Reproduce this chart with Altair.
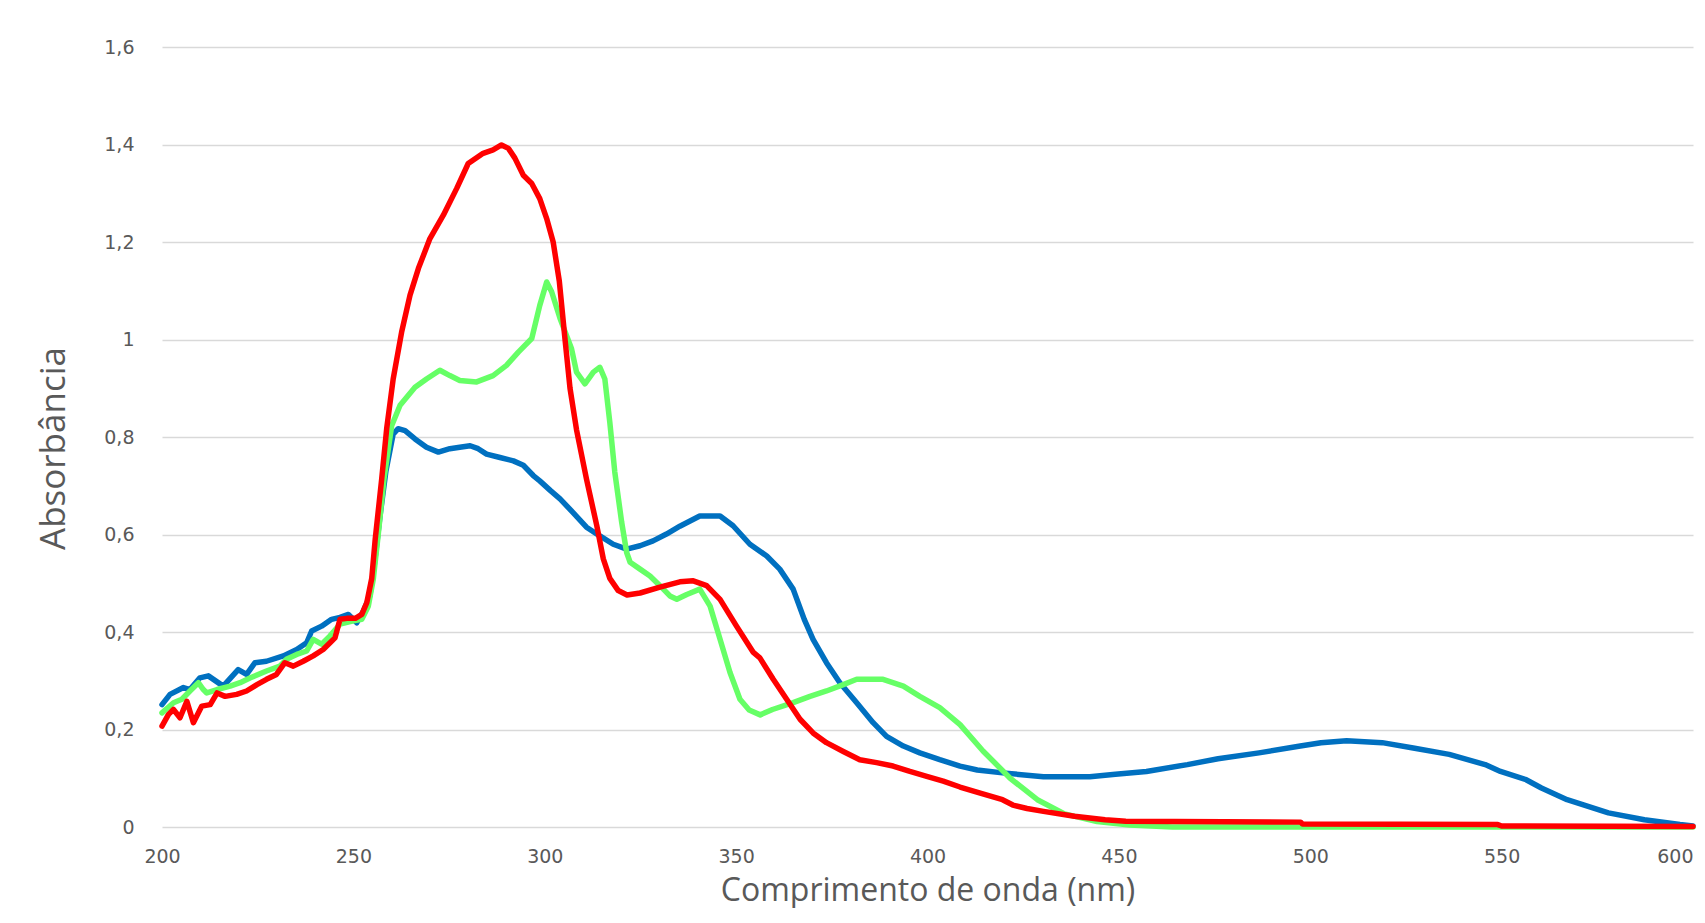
import altair as alt
import pandas as pd

# Blue series
blue_nm = [200, 202.1, 205.6, 207.3, 209.9, 212.1, 216.0, 219.9, 222.1, 224.3, 227.3, 231.7,
           235.2, 237.8, 239.1, 241.7, 244.3, 246.5, 248.7, 250.9, 252.6, 254.3, 255.5, 257.0,
           258.5, 260.4, 261.7, 263.5, 266.1, 269.1, 272.2, 275.2, 277.8, 280.5, 282.6, 284.8,
           288.3, 291.8, 294.4, 297.0, 298.7, 301.5, 304.0, 307.4, 310.9, 314.4, 317.9, 321.4,
           324.9, 328.3, 331.8, 335.3, 340.5, 345.8, 349.2, 353.6, 358.0, 361.4, 364.9, 367.8,
           370.1, 373.6, 377.1, 381.5, 385.8, 389.3, 393.7, 398.0, 403.2, 408.5, 413.0, 419.6,
           430.3, 442.4, 449.1, 457.2, 467.9, 475.9, 486.6, 497.4, 502.8, 509.5, 518.8, 526.9,
           536.3, 545.7, 549.7, 556.4, 560.4, 567.1, 577.9, 587.3, 596.6, 600]
blue_abs = [0.251, 0.272, 0.286, 0.282, 0.306, 0.310, 0.289, 0.323, 0.313, 0.337, 0.340, 0.351,
            0.364, 0.378, 0.402, 0.412, 0.426, 0.430, 0.436, 0.419, 0.443, 0.474, 0.540, 0.640,
            0.730, 0.806, 0.817, 0.813, 0.796, 0.779, 0.769, 0.776, 0.779, 0.782, 0.776, 0.765,
            0.758, 0.751, 0.742, 0.721, 0.710, 0.690, 0.673, 0.645, 0.615, 0.597, 0.580, 0.570,
            0.577, 0.587, 0.601, 0.617, 0.638, 0.638, 0.618, 0.580, 0.556, 0.529, 0.488, 0.426,
            0.385, 0.337, 0.296, 0.255, 0.214, 0.186, 0.166, 0.152, 0.138, 0.125, 0.117, 0.111,
            0.103, 0.103, 0.108, 0.114, 0.128, 0.140, 0.152, 0.166, 0.173, 0.177, 0.173, 0.162,
            0.149, 0.128, 0.114, 0.097, 0.080, 0.056, 0.029, 0.015, 0.005, 0.002]

# Green series
green_nm = [200, 203.0, 205.2, 207.3, 209.5, 210.8, 211.7, 214.4, 217.8, 220.4, 223.1, 227.3,
            230.8, 232.5, 235.2, 237.8, 239.5, 241.7, 243.9, 246.5, 250.0, 252.2, 253.9, 255.2,
            256.5, 258.0, 260.0, 262.2, 266.1, 269.1, 272.6, 275.2, 277.8, 282.2, 286.5, 290.0,
            293.1, 296.6, 298.7, 300.5, 301.8, 304.0, 307.0, 308.3, 310.5, 312.7, 314.4, 315.7,
            317.0, 318.3, 320.1, 321.4, 322.3, 324.9, 327.5, 330.1, 332.7, 334.5, 337.1, 340.5,
            343.2, 345.8, 348.4, 351.0, 353.4, 356.3, 359.5, 364.9, 369.3, 373.6, 378.0, 381.5,
            388.4, 393.7, 398.0, 403.2, 408.5, 414.5, 421.6, 428.7, 435.8, 444.3, 452.8, 464.0, 600]
green_abs = [0.234, 0.255, 0.262, 0.279, 0.296, 0.282, 0.275, 0.282, 0.289, 0.296, 0.306, 0.320,
             0.330, 0.344, 0.354, 0.361, 0.385, 0.375, 0.392, 0.416, 0.423, 0.426, 0.453, 0.508,
             0.600, 0.714, 0.823, 0.865, 0.902, 0.919, 0.937, 0.926, 0.916, 0.913, 0.926, 0.947,
             0.974, 1.002, 1.070, 1.118, 1.098, 1.043, 0.981, 0.933, 0.909, 0.933, 0.943, 0.919,
             0.830, 0.728, 0.625, 0.563, 0.543, 0.529, 0.515, 0.495, 0.474, 0.467, 0.477, 0.488,
             0.453, 0.385, 0.317, 0.262, 0.240, 0.230, 0.241, 0.255, 0.268, 0.279, 0.292, 0.303,
             0.303, 0.289, 0.268, 0.245, 0.210, 0.156, 0.100, 0.056, 0.027, 0.011, 0.004, 0.000, 0.000]

# Red series
red_nm = [200, 201.7, 203.0, 204.7, 206.5, 208.2, 210.4, 212.6, 214.4, 216.5, 219.5, 222.1,
          224.8, 227.3, 229.9, 232.1, 234.3, 236.9, 239.5, 242.1, 243.9, 245.2, 246.5, 248.3,
          250.5, 252.2, 253.5, 254.8, 255.7, 257.4, 258.7, 260.4, 262.6, 264.8, 267.0, 270.0,
          273.5, 277.0, 280.0, 283.9, 286.5, 288.7, 290.5, 292.2, 294.4, 296.6, 298.7, 300.5,
          302.2, 303.8, 305.3, 306.6, 308.3, 310.9, 313.6, 315.3, 317.0, 319.2, 321.5, 324.9,
          330.1, 335.3, 338.8, 342.3, 345.8, 350.1, 354.5, 356.2, 359.7, 363.2, 366.7, 370.1,
          373.6, 378.0, 382.3, 386.7, 391.0, 395.4, 399.8, 404.1, 408.5, 414.0, 419.6, 422.3,
          426.0, 430.3, 438.4, 446.4, 451.8, 497.5, 498.0, 549.0, 550.0, 600]
red_abs = [0.207, 0.231, 0.241, 0.224, 0.258, 0.214, 0.248, 0.251, 0.275, 0.268, 0.272, 0.279,
           0.292, 0.303, 0.313, 0.337, 0.330, 0.340, 0.351, 0.364, 0.378, 0.388, 0.426, 0.428,
           0.428, 0.436, 0.460, 0.510, 0.590, 0.714, 0.817, 0.919, 1.015, 1.091, 1.146, 1.207,
           1.255, 1.310, 1.361, 1.382, 1.389, 1.399, 1.392, 1.372, 1.337, 1.320, 1.289, 1.248,
           1.200, 1.120, 1.000, 0.900, 0.815, 0.714, 0.618, 0.550, 0.510, 0.485, 0.476, 0.480,
           0.492, 0.503, 0.505, 0.495, 0.467, 0.412, 0.358, 0.347, 0.303, 0.262, 0.221, 0.193,
           0.173, 0.155, 0.138, 0.132, 0.125, 0.114, 0.104, 0.094, 0.082, 0.069, 0.056, 0.045,
           0.038, 0.032, 0.022, 0.015, 0.012, 0.010, 0.006, 0.005, 0.002, 0.001]

x_ticks = [200, 250, 300, 350, 400, 450, 500, 550, 600]
y_ticks = [0, 0.2, 0.4, 0.6, 0.8, 1.0, 1.2, 1.4, 1.6]

x_scale = alt.Scale(domain=[200, 600], nice=False, zero=False)
y_scale = alt.Scale(domain=[0, 1.6], nice=False)

x_axis = alt.Axis(values=x_ticks, grid=False, domain=False, ticks=False, labelFlush=False,
                  labelAlign={"condition": {"test": "datum.value >= 600", "value": "right"},
                              "value": "center"},
                  labelFont="DejaVu Sans", labelFontSize=19, labelColor="#595959", labelPadding=20,
                  title="Comprimento de onda (nm)", titleFont="Open Sans", titleFontSize=32,
                  titleFontWeight="normal", titleColor="#595959", titleY=63, titleBaseline="middle")
y_axis = alt.Axis(values=y_ticks, grid=True, gridColor="#D9D9D9", gridWidth=1.5, domain=False,
                  ticks=False, labelFont="DejaVu Sans", labelFontSize=19, labelColor="#595959",
                  labelPadding=28,
                  labelExpr="replace(format(datum.value, '~g'), '.', ',')",
                  title="Absorbância", titleFont="Open Sans", titleFontSize=35,
                  titleFontWeight="normal", titleColor="#595959", titleX=-109, titleY=401,
                  titleAngle=-90, titleBaseline="middle")


def series(nm, ab, color):
    df = pd.DataFrame({"nm": nm, "abs": ab})
    return alt.Chart(df).mark_line(color=color, strokeWidth=5.5, strokeCap="round",
                                   strokeJoin="round").encode(
        x=alt.X("nm:Q", scale=x_scale, axis=x_axis),
        y=alt.Y("abs:Q", scale=y_scale, axis=y_axis),
    )


chart = alt.layer(
    series(blue_nm, blue_abs, "#0070C0"),
    series(green_nm, green_abs, "#66FF66"),
    series(red_nm, red_abs, "#FF0000"),
).properties(
    width=1531, height=780,
    autosize=alt.AutoSizeParams(type="none"),
    padding={"left": 154, "top": 39, "right": 4, "bottom": 81},
).configure_view(stroke=None)

chart.save("out.html", embed_options={"renderer": "svg", "actions": False})
